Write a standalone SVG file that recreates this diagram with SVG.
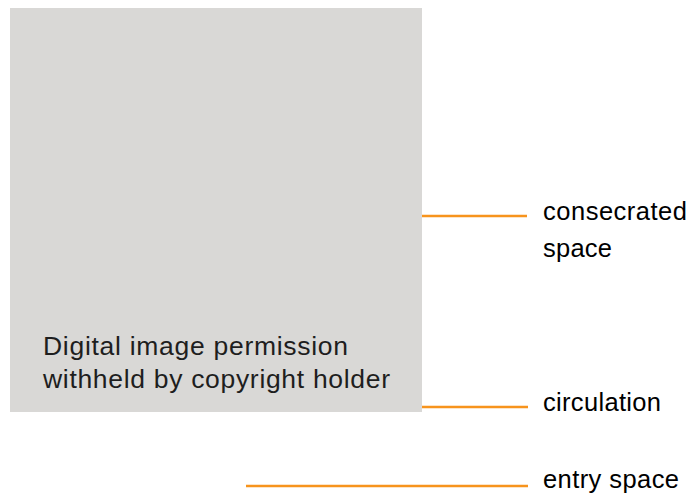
<svg xmlns="http://www.w3.org/2000/svg" width="693" height="499" viewBox="0 0 693 499">
<style>
.lbl{font-family:"Liberation Sans",Arial,sans-serif;font-size:25.5px;fill:#000}
.ph{font-family:"Liberation Sans",Arial,sans-serif;font-size:26.5px;fill:#1e1e1e}
.ln{stroke:#f7941d;stroke-width:2.5;fill:none}
</style>
<rect width="693" height="499" fill="#fff"/>
<g id="image">
<rect x="10" y="8" width="412" height="404" fill="#d9d8d6"/>
<text class="ph" x="43" y="355" textLength="305" lengthAdjust="spacing">Digital image permission</text>
<text class="ph" x="43" y="388" textLength="347" lengthAdjust="spacing">withheld by copyright holder</text>
</g>
<g id="connectors">
<line class="ln" x1="422" y1="216" x2="527" y2="216"/>
<line class="ln" x1="422" y1="407" x2="528" y2="407"/>
<line class="ln" x1="246" y1="486" x2="528" y2="486"/>
</g>
<g id="consecrated">
<text class="lbl" x="543" y="220" textLength="144" lengthAdjust="spacing">consecrated</text>
<text class="lbl" x="543" y="257" textLength="69" lengthAdjust="spacing">space</text>
</g>
<g id="circulation"><text class="lbl" x="543" y="411" textLength="118" lengthAdjust="spacing">circulation</text></g>
<g id="entry"><text class="lbl" x="543" y="488" textLength="136" lengthAdjust="spacing">entry space</text></g>
</svg>
